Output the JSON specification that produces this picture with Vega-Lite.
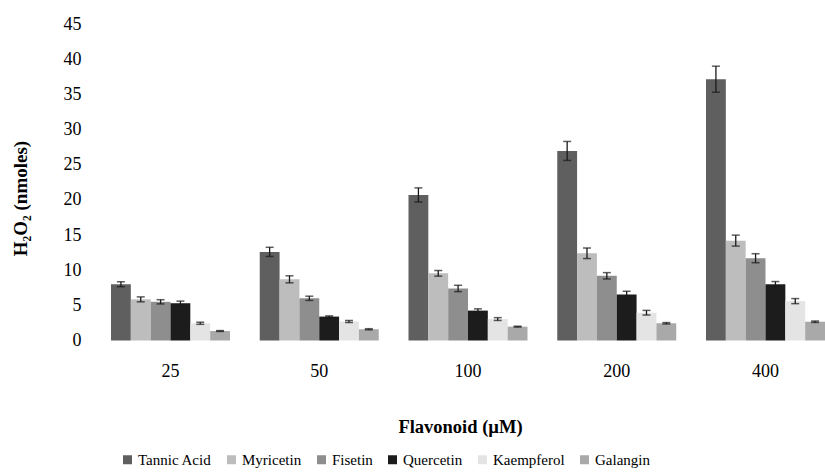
{
  "$schema": "https://vega.github.io/schema/vega-lite/v6.json",
  "autosize": {"type": "none"},
  "padding": {"left": 96, "top": 24, "right": 0, "bottom": 131.5},
  "width": 729,
  "height": 316.5,
  "background": "white",
  "config": {
    "view": {"stroke": null},
    "font": "Times New Roman, Liberation Serif, serif",
    "axis": {"labelFont": "Times New Roman, Liberation Serif, serif", "titleFont": "Times New Roman, Liberation Serif, serif", "labelColor": "#000", "titleColor": "#000"},
    "axisY": {
      "domain": false, "ticks": false, "grid": false,
      "labelFontSize": 18, "labelPadding": 15, "labelOverlap": false,
      "titleFontSize": 19, "titleFontWeight": "bold",
      "titleX": -76, "titleY": 174, "titleBaseline": "middle", "titleAlign": "center", "titleAngle": -90
    },
    "legend": {"labelFont": "Times New Roman, Liberation Serif, serif", "labelColor": "#000"}
  },
  "data": {
    "values": [
      {"conc": "25", "flavonoid": "Tannic Acid", "value": 8.0, "lo": 7.65, "hi": 8.35},
      {"conc": "25", "flavonoid": "Myricetin", "value": 5.85, "lo": 5.5, "hi": 6.2},
      {"conc": "25", "flavonoid": "Fisetin", "value": 5.5, "lo": 5.2, "hi": 5.8},
      {"conc": "25", "flavonoid": "Quercetin", "value": 5.3, "lo": 5.0, "hi": 5.6},
      {"conc": "25", "flavonoid": "Kaempferol", "value": 2.45, "lo": 2.3, "hi": 2.6},
      {"conc": "25", "flavonoid": "Galangin", "value": 1.35, "lo": 1.29, "hi": 1.41},
      {"conc": "50", "flavonoid": "Tannic Acid", "value": 12.6, "lo": 11.95, "hi": 13.25},
      {"conc": "50", "flavonoid": "Myricetin", "value": 8.7, "lo": 8.2, "hi": 9.2},
      {"conc": "50", "flavonoid": "Fisetin", "value": 6.0, "lo": 5.7, "hi": 6.3},
      {"conc": "50", "flavonoid": "Quercetin", "value": 3.4, "lo": 3.3, "hi": 3.5},
      {"conc": "50", "flavonoid": "Kaempferol", "value": 2.7, "lo": 2.55, "hi": 2.85},
      {"conc": "50", "flavonoid": "Galangin", "value": 1.6, "lo": 1.52, "hi": 1.68},
      {"conc": "100", "flavonoid": "Tannic Acid", "value": 20.7, "lo": 19.7, "hi": 21.7},
      {"conc": "100", "flavonoid": "Myricetin", "value": 9.55, "lo": 9.15, "hi": 9.95},
      {"conc": "100", "flavonoid": "Fisetin", "value": 7.4, "lo": 6.95, "hi": 7.85},
      {"conc": "100", "flavonoid": "Quercetin", "value": 4.25, "lo": 4.0, "hi": 4.5},
      {"conc": "100", "flavonoid": "Kaempferol", "value": 3.05, "lo": 2.85, "hi": 3.25},
      {"conc": "100", "flavonoid": "Galangin", "value": 1.97, "lo": 1.91, "hi": 2.03},
      {"conc": "200", "flavonoid": "Tannic Acid", "value": 26.95, "lo": 25.6, "hi": 28.3},
      {"conc": "200", "flavonoid": "Myricetin", "value": 12.4, "lo": 11.65, "hi": 13.15},
      {"conc": "200", "flavonoid": "Fisetin", "value": 9.2, "lo": 8.75, "hi": 9.65},
      {"conc": "200", "flavonoid": "Quercetin", "value": 6.55, "lo": 6.1, "hi": 7.0},
      {"conc": "200", "flavonoid": "Kaempferol", "value": 3.95, "lo": 3.62, "hi": 4.28},
      {"conc": "200", "flavonoid": "Galangin", "value": 2.45, "lo": 2.35, "hi": 2.55},
      {"conc": "400", "flavonoid": "Tannic Acid", "value": 37.15, "lo": 35.3, "hi": 39.0},
      {"conc": "400", "flavonoid": "Myricetin", "value": 14.2, "lo": 13.42, "hi": 14.98},
      {"conc": "400", "flavonoid": "Fisetin", "value": 11.7, "lo": 11.06, "hi": 12.34},
      {"conc": "400", "flavonoid": "Quercetin", "value": 8.0, "lo": 7.62, "hi": 8.38},
      {"conc": "400", "flavonoid": "Kaempferol", "value": 5.6, "lo": 5.24, "hi": 5.96},
      {"conc": "400", "flavonoid": "Galangin", "value": 2.67, "lo": 2.57, "hi": 2.77}
    ]
  },
  "encoding": {
    "x": {
      "field": "conc", "type": "nominal",
      "sort": ["25", "50", "100", "200", "400"],
      "scale": {"paddingInner": 0.2, "paddingOuter": 0.0504, "align": 1},
      "axis": {
        "domain": false, "ticks": false, "grid": false, "labelAngle": 0,
        "labelFontSize": 18, "labelPadding": 22,
        "title": "Flavonoid (µM)", "titleFontSize": 18.5, "titleFontWeight": "bold",
        "titleX": 364, "titleY": 86, "titleBaseline": "middle"
      }
    },
    "xOffset": {
      "field": "flavonoid", "type": "nominal",
      "sort": ["Tannic Acid", "Myricetin", "Fisetin", "Quercetin", "Kaempferol", "Galangin"]
    }
  },
  "layer": [
    {
      "mark": {"type": "bar"},
      "encoding": {
        "y": {
          "field": "value", "type": "quantitative",
          "scale": {"domain": [0, 45], "nice": false},
          "axis": {"values": [0, 5, 10, 15, 20, 25, 30, 35, 40, 45], "title": "H₂O₂ (nmoles)"}
        },
        "color": {
          "field": "flavonoid", "type": "nominal",
          "sort": ["Tannic Acid", "Myricetin", "Fisetin", "Quercetin", "Kaempferol", "Galangin"],
          "scale": {"range": ["#5f5f5f", "#bdbdbd", "#8e8e8e", "#1c1c1c", "#e4e4e4", "#a9a9a9"]},
          "legend": {
            "title": null, "orient": "none", "direction": "horizontal",
            "legendX": 24, "legendY": 428,
            "symbolType": "square", "symbolSize": 81, "symbolStrokeWidth": 0,
            "labelFont": "Times New Roman, Liberation Serif, serif", "labelFontSize": 15, "labelOffset": 3, "columnPadding": 12
          }
        }
      }
    },
    {
      "mark": {"type": "rule", "color": "#1a1a1a", "strokeWidth": 1.3},
      "encoding": {
        "y": {"field": "lo", "type": "quantitative", "axis": {"values": [0, 5, 10, 15, 20, 25, 30, 35, 40, 45], "title": "H₂O₂ (nmoles)"}},
        "y2": {"field": "hi"}
      }
    },
    {
      "mark": {"type": "tick", "color": "#1a1a1a", "thickness": 1.5, "size": 8},
      "encoding": {"y": {"field": "lo", "type": "quantitative", "axis": {"values": [0, 5, 10, 15, 20, 25, 30, 35, 40, 45], "title": "H₂O₂ (nmoles)"}}}
    },
    {
      "mark": {"type": "tick", "color": "#1a1a1a", "thickness": 1.5, "size": 8},
      "encoding": {"y": {"field": "hi", "type": "quantitative", "axis": {"values": [0, 5, 10, 15, 20, 25, 30, 35, 40, 45], "title": "H₂O₂ (nmoles)"}}}
    }
  ]
}
